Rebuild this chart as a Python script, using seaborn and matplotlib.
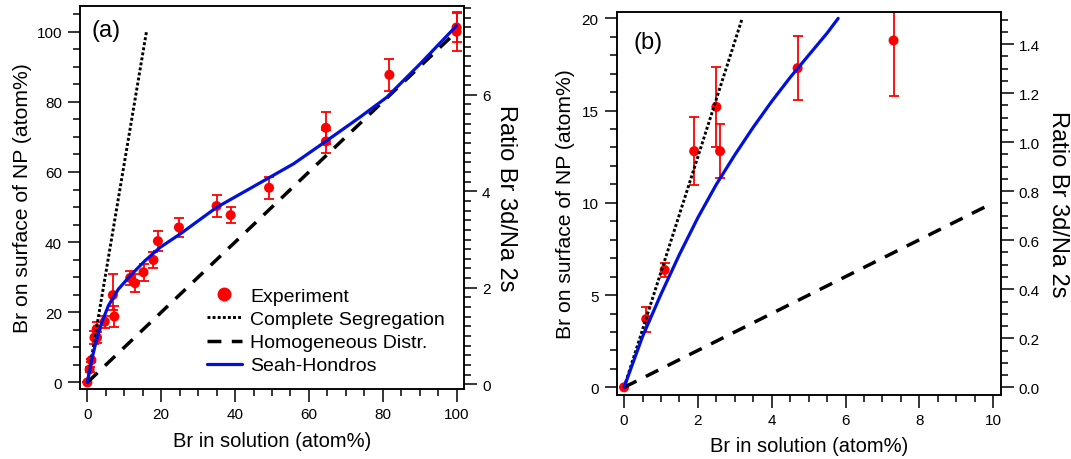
"""
Br surface segregation: two-panel figure (a) full range, (b) low concentration
"""
import matplotlib
matplotlib.use('Agg')
import matplotlib.pyplot as plt
from matplotlib.lines import Line2D
from matplotlib.ticker import MultipleLocator
import seaborn as sns
import pandas as pd

sns.set_style("ticks")
plt.rcParams['font.family'] = ['Liberation Sans', 'DejaVu Sans']
plt.rcParams['axes.linewidth'] = 1.1
for key in ['text.color', 'axes.labelcolor', 'xtick.color', 'ytick.color',
            'axes.edgecolor']:
    plt.rcParams[key] = 'black'

# --- Experiment (shared by both panels) ---
br_solution = [0, 0.6, 1.1, 1.9, 2.5, 2.6, 4.7, 6.9, 7.3, 11.6, 12.9, 15.2, 17.9,
               19.1, 24.8, 35.0, 38.8, 49.2, 64.6, 64.6, 81.8, 100, 100]
br_surface = [0, 3.7, 6.36, 12.8, 15.2, 12.8, 17.3, 24.9, 18.8, 29.8, 28.3, 31.4, 34.9,
              40.3, 44.2, 50.3, 47.7, 55.5, 72.6, 68.7, 87.7, 101.2, 100]
err_low = [0, 0.68, 0.4, 1.85, 2.15, 1.45, 1.72, 4.2, 3.0, 2.0, 2.6, 2.5, 2.4,
           2.9, 2.75, 3.0, 2.2, 3.2, 4.6, 3.3, 4.6, 4.0, 5.5]
err_high = [0, 0.68, 0.4, 1.85, 2.15, 1.45, 1.72, 6.0, 3.0, 2.0, 2.6, 2.5, 2.4,
            2.9, 2.75, 3.0, 2.2, 3.2, 4.6, 3.3, 4.6, 4.0, 5.5]

# --- Model lines ---
seg_a_x, seg_a_y = [0, 16], [0, 100]
seg_b_x, seg_b_y = [0, 3.2], [0, 20]
homo_a_x, homo_a_y = [0, 100], [0, 100]
homo_b_x, homo_b_y = [0, 10], [0, 10]

sh_a_x = [0, 1.2, 2.5, 3.9, 5.7, 8.4, 11.6, 15.6, 19.7, 25.1, 35.0, 48.6,
          55.8, 64.8, 73.8, 81.1, 90.1, 100]
sh_a_y = [0, 6.6, 12.3, 17.1, 21.9, 26.6, 30.4, 34.7, 38.5, 42.3, 49.9, 58.0,
          62.3, 68.9, 75.6, 81.3, 90.8, 101.7]

sh_b_x = [0, 0.5, 1.0, 1.5, 2.0, 2.5, 3.0, 3.5, 4.0, 4.5, 5.0, 5.5, 5.8]
sh_b_y = [0, 2.75, 5.05, 7.2, 9.2, 11.0, 12.6, 14.1, 15.5, 16.8, 18.0, 19.2, 20.0]

RED = '#FF0000'
BLUE = '#0010DD'
TICK_FS = 11

df = pd.DataFrame({'x': br_solution, 'y': br_surface})


def style_axis(ax, xmaj, xmin, ymaj, ymin):
    ax.xaxis.set_major_locator(MultipleLocator(xmaj))
    ax.xaxis.set_minor_locator(MultipleLocator(xmin))
    ax.yaxis.set_major_locator(MultipleLocator(ymaj))
    ax.yaxis.set_minor_locator(MultipleLocator(ymin))
    ax.tick_params(which='major', direction='out', length=9, width=1.1,
                   labelsize=TICK_FS, pad=4, top=False, right=False,
                   colors='black')
    ax.tick_params(which='minor', direction='out', length=5, width=1.1,
                   top=False, right=False, colors='black')
    for s in ax.spines.values():
        s.set_visible(True)
        s.set_linewidth(1.1)
        s.set_color('black')


def style_right(ax2, ymaj, ymin, fmt):
    ax2.yaxis.set_major_locator(MultipleLocator(ymaj))
    ax2.yaxis.set_minor_locator(MultipleLocator(ymin))
    ax2.yaxis.set_major_formatter(fmt)
    ax2.tick_params(which='major', direction='out', length=9, width=1.1,
                    labelsize=TICK_FS, pad=4, colors='black')
    ax2.tick_params(which='minor', direction='out', length=5, width=1.1,
                    colors='black')
    for s in ax2.spines.values():
        s.set_linewidth(1.1)
        s.set_color('black')


def draw_panel(ax, seg_x, seg_y, homo_x, homo_y, sh_x, sh_y):
    ax.errorbar(br_solution, br_surface, yerr=[err_low, err_high], fmt='none',
                ecolor=RED, elinewidth=1.3, capsize=3.6, capthick=1.3, zorder=2)
    sns.scatterplot(data=df, x='x', y='y', ax=ax, color=RED, s=52,
                    edgecolor='none', zorder=3, legend=False)
    sns.lineplot(x=homo_x, y=homo_y, ax=ax, color='black', lw=2.5,
                 linestyle=(0, (4, 3)), zorder=4)
    sns.lineplot(x=seg_x, y=seg_y, ax=ax, color='black', lw=2.1,
                 linestyle=(0, (1, 0.75)), zorder=5)
    sns.lineplot(x=sh_x, y=sh_y, ax=ax, color=BLUE, lw=2.3, sort=False,
                 estimator=None, zorder=6)


fig = plt.figure(figsize=(10.71, 4.60), dpi=100)
ax_a = fig.add_axes([0.0747, 0.152, 0.3585, 0.8326])
ax_b = fig.add_axes([0.5758, 0.1398, 0.3585, 0.8326])

# (a)
draw_panel(ax_a, seg_a_x, seg_a_y, homo_a_x, homo_a_y, sh_a_x, sh_a_y)
ax_a.set_xlim(-2, 102)
ax_a.set_ylim(-1.9, 107.3)
style_axis(ax_a, 20, 5, 20, 5)
ax_a.set_xlabel('Br in solution (atom%)', fontsize=14.5, labelpad=7)
ax_a.set_ylabel('Br on surface of NP (atom%)', fontsize=15.2, labelpad=3)
ax_a.text(0.03, 0.965, '(a)', transform=ax_a.transAxes, fontsize=17,
          ha='left', va='top')
ax_a2 = ax_a.twinx()
ax_a2.set_ylim(-0.10, 7.84)
style_right(ax_a2, 2, 0.2, '{x:.0f}')
ax_a2.set_ylabel('Ratio Br 3d/Na 2s', fontsize=17, rotation=-90, labelpad=19)

handles = [
    Line2D([], [], marker='o', color=RED, linestyle='none', markersize=9),
    Line2D([], [], color='black', lw=2.1, linestyle=(0, (1, 0.75))),
    Line2D([], [], color='black', lw=2.5, linestyle=(0, (4, 3))),
    Line2D([], [], color=BLUE, lw=2.3),
]
labels = ['Experiment', 'Complete Segregation', 'Homogeneous Distr.', 'Seah-Hondros']
ax_a.legend(handles, labels, loc='upper left', bbox_to_anchor=(0.33, 0.265),
            frameon=False, fontsize=14, handlelength=1.8, handletextpad=0.45,
            labelspacing=0.28, borderpad=0, borderaxespad=0)

# (b)
draw_panel(ax_b, seg_b_x, seg_b_y, homo_b_x, homo_b_y, sh_b_x, sh_b_y)
ax_b.set_xlim(-0.2, 10.2)
ax_b.set_ylim(-0.4, 20.36)
style_axis(ax_b, 2, 0.5, 5, 1)
ax_b.set_xlabel('Br in solution (atom%)', fontsize=14.5, labelpad=7)
ax_b.set_ylabel('Br on surface of NP (atom%)', fontsize=15.2, labelpad=5)
ax_b.text(0.043, 0.95, '(b)', transform=ax_b.transAxes, fontsize=17,
          ha='left', va='top')
ax_b2 = ax_b.twinx()
ax_b2.set_ylim(-0.03, 1.532)
style_right(ax_b2, 0.2, 0.05, '{x:.1f}')
ax_b2.set_ylabel('Ratio Br 3d/Na 2s', fontsize=17, rotation=-90, labelpad=21)

fig.savefig('out.png', dpi=100)
